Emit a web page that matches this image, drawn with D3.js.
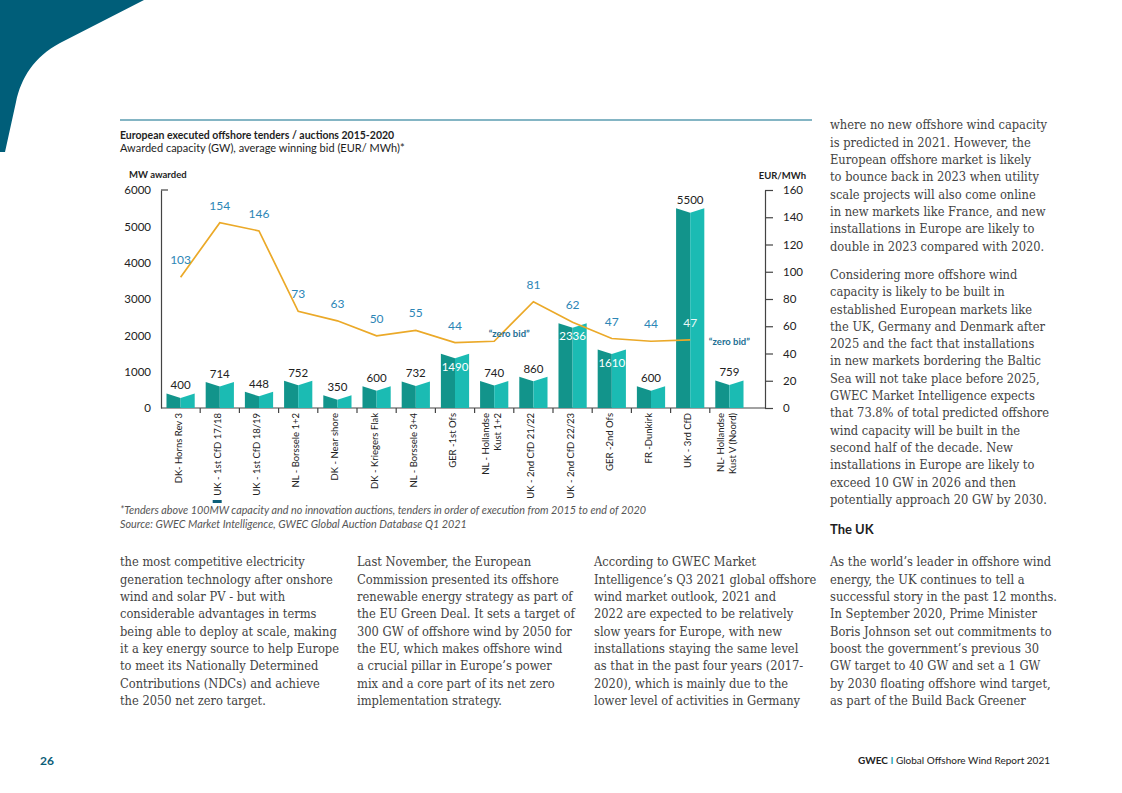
<!DOCTYPE html>
<html>
<head>
<meta charset="utf-8">
<script src="https://cdn.jsdelivr.net/npm/d3@7"></script>
<style>
  body { margin: 0; background: #fff; }
  svg { display: block; }
  .sans { font-family: Lato, "Open Sans", sans-serif; }
  .body { font-family: "DejaVu Serif Condensed", "DejaVu Serif", serif; fill: #434343; }
  .axis text { font-family: Lato, "Open Sans", sans-serif; font-size: 11.5px; fill: #222; }
  .axis path, .axis line { stroke: #444; stroke-width: 1.2; }
</style>
</head>
<body>
<svg id="page" width="1122" height="793"></svg>
<script>
// ---- data ----
var tenders = [
  "DK- Horns Rev 3", "UK - 1st CfD 17/18", "UK - 1st CfD 18/19", "NL - Borssele 1+2",
  "DK - Near shore", "DK - Kriegers Flak", "NL - Borssele 3+4", "GER -1st Ofs",
  "NL - Hollandse\nKust 1+2", "UK - 2nd CfD 21/22", "UK - 2nd CfD 22/23", "GER -2nd Ofs",
  "FR -Dunkirk", "UK - 3rd CfD", "NL- Hollandse\nKust V (Noord)"
];
var mwAwarded = [400, 714, 448, 752, 350, 600, 732, 1490, 740, 860, 2336, 1610, 600, 5500, 759];
// printed bid labels (EUR/MWh)
var bidLabels = ["103", "154", "146", "73", "63", "50", "55", "44", "\u201Czero bid\u201D",
                 "81", "62", "47", "44", "47", "\u201Czero bid\u201D"];
// where the line is actually drawn against the right axis
var bidLine = [96, 136, 130, 71, 64, 53, 57, 48, 49, 78, 63, 51, 49, 50, null];

var mwTicks = [0, 1000, 2000, 3000, 4000, 5000, 6000];
var eurTicks = [0, 20, 40, 60, 80, 100, 120, 140, 160];

// ---- body copy ----
var colTopRight = [
  "where no new offshore wind capacity",
  "is predicted in 2021. However, the",
  "European offshore market is likely",
  "to bounce back in 2023 when utility",
  "scale projects will also come online",
  "in new markets like France, and new",
  "installations in Europe are likely to",
  "double in 2023 compared with 2020."
];
var colTopRight2 = [
  "Considering more offshore wind",
  "capacity is likely to be built in",
  "established European markets like",
  "the UK, Germany and Denmark after",
  "2025 and the fact that installations",
  "in new markets bordering the Baltic",
  "Sea will not take place before 2025,",
  "GWEC Market Intelligence expects",
  "that 73.8% of total predicted offshore",
  "wind capacity will be built in the",
  "second half of the decade. New",
  "installations in Europe are likely to",
  "exceed 10 GW in 2026 and then",
  "potentially approach 20 GW by 2030."
];
var col1 = [
  "the most competitive electricity",
  "generation technology after onshore",
  "wind and solar PV - but with",
  "considerable advantages in terms",
  "being able to deploy at scale, making",
  "it a key energy source to help Europe",
  "to meet its Nationally Determined",
  "Contributions (NDCs) and achieve",
  "the 2050 net zero target."
];
var col2 = [
  "Last November, the European",
  "Commission presented its offshore",
  "renewable energy strategy as part of",
  "the EU Green Deal. It sets a target of",
  "300 GW of offshore wind by 2050 for",
  "the EU, which makes offshore wind",
  "a crucial pillar in Europe\u2019s power",
  "mix and a core part of its net zero",
  "implementation strategy."
];
var col3 = [
  "According to GWEC Market",
  "Intelligence\u2019s Q3 2021 global offshore",
  "wind market outlook, 2021 and",
  "2022 are expected to be relatively",
  "slow years for Europe, with new",
  "installations staying the same level",
  "as that in the past four years (2017-",
  "2020), which is mainly due to the",
  "lower level of activities in Germany"
];
var col4 = [
  "As the world\u2019s leader in offshore wind",
  "energy, the UK continues to tell a",
  "successful story in the past 12 months.",
  "In September 2020, Prime Minister",
  "Boris Johnson set out commitments to",
  "boost the government\u2019s previous 30",
  "GW target to 40 GW and set a 1 GW",
  "by 2030 floating offshore wind target,",
  "as part of the Build Back Greener"
];

var svg = d3.select("#page");

// corner decoration
svg.append("path")
  .attr("d", "M0,0 L144,0 L60,43 C34,57 21,78 16,102 L5,152 L0,152 Z")
  .attr("fill", "#005e79");

// rule over the chart
svg.append("line")
  .attr("x1", 120).attr("x2", 812).attr("y1", 120).attr("y2", 120)
  .attr("stroke", "#5b9db0").attr("stroke-width", 1.5);

svg.append("text").attr("class", "sans")
  .attr("x", 120).attr("y", 139)
  .style("font-size", "10.5px").style("font-weight", "bold").attr("fill", "#1e1e1e")
  .text("European executed offshore tenders / auctions 2015-2020");
svg.append("text").attr("class", "sans")
  .attr("x", 120).attr("y", 152)
  .style("font-size", "11px").attr("fill", "#1e1e1e")
  .text("Awarded capacity (GW), average winning bid (EUR/ MWh)*");

svg.append("text").attr("class", "sans")
  .attr("x", 129).attr("y", 178)
  .style("font-size", "9.5px").style("font-weight", "bold").attr("fill", "#1e1e1e")
  .text("MW awarded");
svg.append("text").attr("class", "sans")
  .attr("x", 806).attr("y", 179).attr("text-anchor", "end")
  .style("font-size", "9.5px").style("font-weight", "bold").attr("fill", "#1e1e1e")
  .text("EUR/MWh");

// ---- scales ----
var x = d3.scaleBand()
  .domain(d3.range(tenders.length))
  .range([161, 749])
  .paddingInner(0.28)
  .paddingOuter(0.14);
var yL = d3.scaleLinear().domain([0, 6000]).range([408, 190]);
var yR = d3.scaleLinear().domain([0, 160]).range([408, 190]);

var cx = function(i) { return x(i) + x.bandwidth() / 2; };

// left axis
svg.append("g").attr("class", "axis").attr("transform", "translate(161,0)")
  .call(d3.axisLeft(yL).tickValues(mwTicks).tickSize(0).tickPadding(10).tickFormat(d3.format("d")));
svg.append("line").attr("x1", 161).attr("x2", 168)
  .attr("y1", yL(6000)).attr("y2", yL(6000))
  .attr("stroke", "#444").attr("stroke-width", 1.2);

// right axis
svg.append("g").attr("class", "axis").attr("transform", "translate(765,0)")
  .call(d3.axisRight(yR).tickValues(eurTicks).tickSize(8).tickSizeOuter(0).tickPadding(10));

// bottom line and separators
svg.append("line").attr("x1", 161).attr("x2", 765).attr("y1", 408).attr("y2", 408)
  .attr("stroke", "#444").attr("stroke-width", 1.2);
svg.append("g").selectAll("line")
  .data(d3.range(tenders.length - 1))
  .join("line")
  .attr("x1", function(i) { return x(i) + x.step() - (x.step() - x.bandwidth()) / 2; })
  .attr("x2", function(i) { return x(i) + x.step() - (x.step() - x.bandwidth()) / 2; })
  .attr("y1", 408).attr("y2", 413)
  .attr("stroke", "#444").attr("stroke-width", 1.2);

// ---- bars (folded look: dark left half, light right half, notched top) ----
var notch = 4.5;
var bars = svg.append("g").selectAll("g")
  .data(mwAwarded)
  .join("g");
bars.append("polygon")
  .attr("fill", "#12948b")
  .attr("points", function(d, i) {
    var x0 = x(i), m = cx(i), t = yL(d);
    return [[x0, yL(0)], [x0, t], [m, t + notch], [m, yL(0)]].join(" ");
  });
bars.append("polygon")
  .attr("fill", "#1bbbb3")
  .attr("points", function(d, i) {
    var x1 = x(i) + x.bandwidth(), m = cx(i), t = yL(d);
    return [[m, yL(0)], [m, t + notch], [x1, t], [x1, yL(0)]].join(" ");
  });

// bar values
svg.append("g").selectAll("text")
  .data(mwAwarded)
  .join("text")
  .attr("class", "sans")
  .attr("text-anchor", "middle")
  .style("font-size", "11.5px")
  .attr("x", function(d, i) { return cx(i); })
  .attr("y", function(d) {
    var inside = d > 1000 && d < 5000;
    return inside ? yL(d) + 17 : yL(d) - 4;
  })
  .attr("fill", function(d) { return (d > 1000 && d < 5000) ? "#fff" : "#222"; })
  .text(function(d) { return d; });

// ---- bid line ----
var line = d3.line()
  .defined(function(d) { return d != null; })
  .x(function(d, i) { return cx(i); })
  .y(function(d) { return yR(d); });
svg.append("path")
  .datum(bidLine)
  .attr("d", line)
  .attr("fill", "none")
  .attr("stroke", "#eba928")
  .attr("stroke-width", 1.7);

// bid labels
svg.append("g").selectAll("text")
  .data(bidLabels)
  .join("text")
  .attr("class", "sans")
  .attr("text-anchor", "middle")
  .each(function(lbl, i) {
    var t = d3.select(this);
    var zero = lbl.indexOf("zero") >= 0;
    var v = bidLine[i] != null ? bidLine[i] : bidLine[i - 1];
    if (zero) {
      // first one sits a bit right of its point, above the line
      var last = i === bidLabels.length - 1;
      t.attr("x", cx(i) + (last ? 0 : 15))
       .attr("y", last ? yR(v) + 5 : yR(v) - 4)
       .style("font-size", "9.5px").style("font-weight", "bold")
       .attr("fill", "#1d6f93");
    } else {
      var yy = yR(v) - 13;
      var overBar = yy > yL(mwAwarded[i]) + 4;
      t.attr("x", cx(i)).attr("y", yy)
       .style("font-size", "12px")
       .attr("fill", overBar ? "#e8f8f7" : "#2c86b6");
    }
    t.text(lbl);
  });

// category labels (rotated)
var cats = svg.append("g").selectAll("text")
  .data(tenders)
  .join("text")
  .attr("class", "sans")
  .attr("text-anchor", "end")
  .style("font-size", "9.5px")
  .attr("fill", "#222")
  .attr("transform", function(d, i) { return "translate(" + cx(i) + ",413) rotate(-90)"; });
cats.each(function(d) {
  var parts = d.split("\n");
  var t = d3.select(this);
  if (parts.length === 1) {
    t.append("tspan").attr("x", 0).attr("y", 1).text(parts[0]);
  } else {
    t.append("tspan").attr("x", 0).attr("y", -5.5).text(parts[0]);
    t.append("tspan").attr("x", 0).attr("y", 6.5).text(parts[1]);
  }
});

// small marker under the 2nd label
svg.append("rect").attr("x", x(1) + 7).attr("y", 500).attr("width", 9).attr("height", 3)
  .attr("fill", "#0d5e78");

// footnotes
svg.append("text").attr("class", "sans")
  .attr("x", 120).attr("y", 514)
  .style("font-size", "10.8px").style("font-style", "italic").attr("fill", "#555")
  .text("*Tenders above 100MW capacity and no innovation auctions, tenders in order of execution from 2015 to end of 2020");
svg.append("text").attr("class", "sans")
  .attr("x", 120).attr("y", 528)
  .style("font-size", "10.8px").style("font-style", "italic").attr("fill", "#555")
  .text("Source: GWEC Market Intelligence, GWEC Global Auction Database Q1 2021");

// ---- body text ----
var probe = svg.append("text").attr("class", "body").style("font-size", "12px")
  .text("being able to deploy at scale, making");
var bodySize = 12 * 217 / probe.node().getComputedTextLength();
probe.remove();

var lead = 17.3;
function column(lines, x0, yCenter) {
  svg.append("g").selectAll("text")
    .data(lines)
    .join("text")
    .attr("class", "body")
    .style("font-size", bodySize.toFixed(2) + "px")
    .attr("x", x0)
    .attr("y", function(d, i) { return yCenter + i * lead + bodySize * 0.35; })
    .text(function(d) { return d; });
}
column(colTopRight, 830, 125);
column(colTopRight2, 830, 274.5);
column(col1, 120, 562);
column(col2, 357, 562);
column(col3, 594, 562);
column(col4, 830, 562);

svg.append("text").attr("class", "sans")
  .attr("x", 830).attr("y", 534)
  .style("font-size", "13px").style("font-weight", "bold").attr("fill", "#1e1e1e")
  .text("The UK");

// footer
svg.append("text").attr("class", "sans")
  .attr("x", 40).attr("y", 765)
  .style("font-size", "12px").style("font-weight", "bold").attr("fill", "#0c5d78")
  .text("26");
var foot = svg.append("text").attr("class", "sans")
  .attr("x", 1050).attr("y", 764).attr("text-anchor", "end")
  .style("font-size", "10px").attr("fill", "#222");
foot.append("tspan").style("font-weight", "bold").text("GWEC ");
foot.append("tspan").attr("fill", "#1aa6b7").style("font-weight", "bold").text("I");
foot.append("tspan").text(" Global Offshore Wind Report 2021");
</script>
</body>
</html>
